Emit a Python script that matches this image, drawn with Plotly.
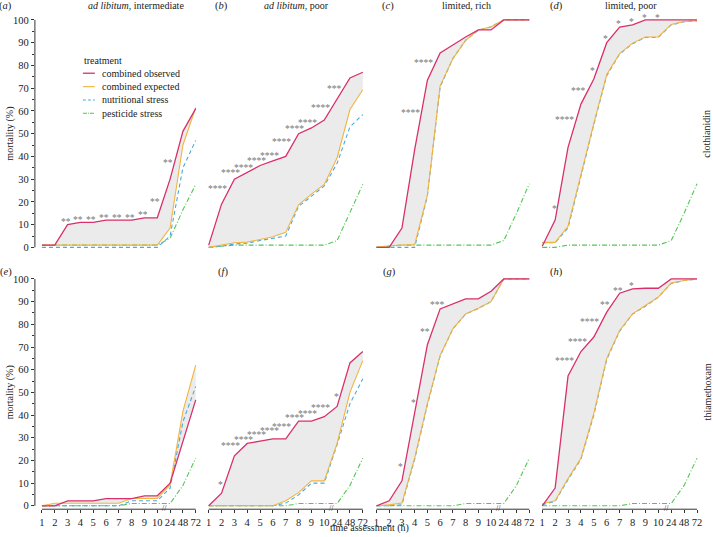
import plotly.graph_objects as go

# ---------------- data ----------------
times = ["1", "2", "3", "4", "5", "6", "7", "8", "9", "10", "24", "48", "72"]
panel_letters = ["a", "b", "c", "d", "e", "f", "g", "h"]
column_titles = ["<i>ad libitum</i>, intermediate", "<i>ad libitum</i>, poor",
                 "limited, rich", "limited, poor"]
pesticides = ["clothianidin", "thiamethoxam"]
series_names = ["combined observed", "combined expected",
                "nutritional stress", "pesticide stress"]

# clothianidin
obs_a = [1, 1, 10, 11, 11, 12, 12, 12, 13, 13, 30, 51, 61]
exp_a = [1, 1, 1, 1, 1, 1, 1, 1, 1, 1, 8.5, 45, 61.5]
nut_a = [0, 0, 0, 0, 0, 0, 0, 0, 0, 0, 5, 35, 47]
pes_a = [1, 1, 1, 1, 1, 1, 1, 1, 1, 1, 4, 16.5, 27.7]

obs_b = [1, 19, 30, 33, 36, 38, 40, 50, 52.5, 56, 65, 74.5, 77]
exp_b = [0, 1, 2, 2.3, 3.4, 4.7, 6.6, 18.7, 23.4, 27.7, 39.4, 60.6, 69.3]
nut_b = [0, 0.5, 1.5, 1.8, 3, 4, 5, 18, 22.6, 27, 37, 53, 58.4]
pes_b = [0, 0.5, 1, 1, 1, 1, 1, 1, 1, 1, 3, 15, 27.7]

obs_c = [0, 0, 8.5, 43, 73.5, 85.5, 89, 92.5, 95.6, 95.6, 100, 100, 100]
exp_c = [0, 0.7, 1, 1.2, 23, 71, 83, 91, 95.6, 97, 100, 100, 100]
nut_c = [0, 0, 0, 0, 22.5, 70.5, 83, 91, 95.5, 97, 100, 100, 100]
pes_c = [0, 0.5, 1, 1, 1, 1, 1, 1, 1, 1, 3, 15, 28]

obs_d = [0.5, 12, 44, 63, 74, 90, 96.8, 97.8, 100, 100, 100, 100, 100]
exp_d = [2.2, 2.2, 9.3, 32, 54.5, 76, 85.2, 89.8, 92.5, 92.5, 98, 99.3, 99.7]
nut_d = [2, 2, 8.5, 31.5, 54, 75.5, 85, 89.5, 92.3, 92.3, 97.8, 99.2, 99.6]
pes_d = [0, 0, 1, 1, 1, 1, 1, 1, 1, 1, 3, 15, 28]

# thiamethoxam
obs_e = [0, 0, 2.2, 2.2, 2.2, 3.2, 3.2, 3.2, 4.4, 4.4, 10, 28, 46.7]
exp_e = [0, 1.1, 1.1, 1.1, 1.1, 1.1, 1.1, 3.2, 3.2, 3.2, 9.2, 41.6, 62]
nut_e = [0, 0, 0, 0, 0, 0, 0, 2.2, 2.2, 2.2, 7.8, 37, 52.6]
pes_e = [0, 0, 0, 0, 0, 0, 0, 1, 1, 1, 1, 9, 21]

obs_f = [0, 5.6, 22, 27.5, 28.5, 29.5, 29.5, 37.3, 37.3, 39.3, 43.8, 63, 68]
exp_f = [0, 0, 0, 0, 0, 0, 2.2, 5.8, 11, 11, 27.5, 50, 64]
nut_f = [0, 0, 0, 0, 0, 0, 1.2, 4.8, 10, 10, 27, 45, 56]
pes_f = [0, 0, 0, 0, 0, 0, 0, 1, 1, 1, 1, 9, 21]

obs_g = [0, 2.2, 11, 41, 71, 86.8, 89, 91.2, 91.2, 94.6, 100, 100, 100]
exp_g = [0, 0.4, 1.2, 21, 45, 66.3, 78, 84.6, 87.1, 90, 100, 100, 100]
nut_g = [0, 0, 0.5, 20.5, 44.5, 66, 78, 84.5, 87, 90, 100, 100, 100]
pes_g = [0, 0, 0, 0, 0, 0, 0, 1, 1, 1, 1, 9, 21]

obs_h = [0, 7.8, 57.2, 68, 74.4, 85.4, 93.7, 95.6, 95.9, 95.9, 100, 100, 100]
exp_h = [0.9, 2.2, 12, 21, 40.7, 65, 77.3, 84.6, 88.3, 92, 98.2, 99.3, 100]
nut_h = [0.5, 2, 11.5, 20.5, 40, 64.5, 77, 84.5, 88, 92, 98, 99.3, 100]
pes_h = [0, 0, 0, 0, 0, 0, 0, 1, 1, 1, 1, 9, 21]

# significance labels: time, text, label height (mortality %)
sig_a_t = ["3", "4", "5", "6", "7", "8", "9", "10", "24"]
sig_a_s = ["**"] * 9
sig_a_y = [12.1, 13.1, 13.1, 14.2, 14.2, 14.2, 15.3, 21.2, 38]

sig_b_t = ["2", "3", "4", "5", "6", "7", "8", "9", "10", "24"]
sig_b_s = ["****"] * 9 + ["***"]
sig_b_y = [26.7, 33.6, 35.8, 39, 41.2, 47.4, 53.3, 56, 62.5, 70.7]

sig_c_t = ["4", "5"]
sig_c_s = ["****", "****"]
sig_c_y = [60, 82]

sig_d_t = ["2", "3", "4", "5", "6", "7", "8", "9", "10"]
sig_d_s = ["*", "****", "***", "*", "*", "*", "*", "*", "*"]
sig_d_y = [18, 57, 70, 78.8, 92.7, 99.5, 100.4, 102, 102]

sig_e_t, sig_e_s, sig_e_y = [], [], []

sig_f_t = ["2", "3", "4", "5", "6", "7", "8", "9", "10", "24"]
sig_f_s = ["*"] + ["****"] * 8 + ["*"]
sig_f_y = [10.4, 27.5, 30.2, 32.2, 34.1, 36, 40, 41.4, 44.4, 49]

sig_g_t = ["3", "4", "5", "6"]
sig_g_s = ["*", "*", "**", "***"]
sig_g_y = [18, 46.6, 77.6, 89.7]

sig_h_t = ["3", "4", "5", "6", "7", "8"]
sig_h_s = ["****", "****", "****", "**", "**", "*"]
sig_h_y = [64.9, 73.4, 82.1, 89.7, 95.9, 97.8]

y_ticks = [0, 10, 20, 30, 40, 50, 60, 70, 80, 90, 100]
y_minor = [5, 15, 25, 35, 45, 55, 65, 75, 85, 95]

panels = [
    (obs_a, exp_a, nut_a, pes_a, sig_a_t, sig_a_s, sig_a_y),
    (obs_b, exp_b, nut_b, pes_b, sig_b_t, sig_b_s, sig_b_y),
    (obs_c, exp_c, nut_c, pes_c, sig_c_t, sig_c_s, sig_c_y),
    (obs_d, exp_d, nut_d, pes_d, sig_d_t, sig_d_s, sig_d_y),
    (obs_e, exp_e, nut_e, pes_e, sig_e_t, sig_e_s, sig_e_y),
    (obs_f, exp_f, nut_f, pes_f, sig_f_t, sig_f_s, sig_f_y),
    (obs_g, exp_g, nut_g, pes_g, sig_g_t, sig_g_s, sig_g_y),
    (obs_h, exp_h, nut_h, pes_h, sig_h_t, sig_h_s, sig_h_y),
]

# ---------------- styling / geometry ----------------
W, H = 713, 537
FONT = "Liberation Serif"
TXT = "#222222"
FS_TICK = 10.5
FS_TEXT = 10
C_OBS = "#d8306b"
C_EXP = "#f3b33f"
C_NUT = "#4ba9e0"
C_PES = "#52c652"
C_FILL = "#ebebeb"
styles = [
    dict(color=C_OBS, width=1.3, dash="solid"),
    dict(color=C_EXP, width=1.1, dash="solid"),
    dict(color=C_NUT, width=1.1, dash="4px,3px"),
    dict(color=C_PES, width=1.1, dash="5px,2px,1px,2px"),
]

col_p0 = [42, 209, 377, 543]
col_p12 = [196, 363.3, 530, 698]
row_y0 = [248.3, 507.7]
row_y100 = [20, 280]
XR = [-0.55, 12.3]
YR = [-1.5, 103]

idx = list(range(len(times)))

fig = go.Figure()
layout = dict(
    width=W, height=H, autosize=False,
    margin=dict(l=0, r=0, t=0, b=0),
    paper_bgcolor="white", plot_bgcolor="white",
    showlegend=False,
    font=dict(family=FONT, size=FS_TEXT, color=TXT),
)
shapes = []
annotations = []

for p in range(8):
    r, c = divmod(p, 4)
    n = p + 1
    xa = "x" if n == 1 else f"x{n}"
    ya = "y" if n == 1 else f"y{n}"
    xkey = "xaxis" if n == 1 else f"xaxis{n}"
    ykey = "yaxis" if n == 1 else f"yaxis{n}"
    s = (col_p12[c] - col_p0[c]) / 12
    left = col_p0[c] + XR[0] * s
    right = col_p0[c] + XR[1] * s
    k = (row_y0[r] - row_y100[r]) / 100
    top = row_y100[r] - (YR[1] - 100) * k
    bottom = row_y0[r] - YR[0] * k

    bottom_row = r == 1
    layout[xkey] = dict(
        domain=[left / W, right / W], range=XR, anchor=ya,
        showgrid=False, zeroline=False, showline=False,
        tickmode="array", tickvals=idx, ticktext=times, tickangle=0,
        ticks="outside" if bottom_row else "", ticklen=3, tickwidth=1,
        tickcolor="#333333", showticklabels=bottom_row,
        tickfont=dict(family=FONT, size=FS_TICK, color=TXT),
    )
    first_col = c == 0
    ydict = dict(
        domain=[1 - bottom / H, 1 - top / H], range=YR, anchor=xa,
        showgrid=False, zeroline=False, showline=False,
        tickmode="array", tickvals=y_ticks,
        ticks="outside" if first_col else "", ticklen=3, tickwidth=1,
        tickcolor="#333333", showticklabels=first_col,
        tickfont=dict(family=FONT, size=FS_TICK, color=TXT),
    )
    if first_col:
        ydict["minor"] = dict(tickmode="array", tickvals=y_minor, ticks="outside",
                              ticklen=2, tickwidth=1, tickcolor="#333333")
    layout[ykey] = ydict

    obs, exp, nut, pes, st, ss, sy = panels[p]
    # ribbon between observed and expected
    fig.add_trace(go.Scatter(x=idx, y=exp, xaxis=xa, yaxis=ya, mode="lines",
                             line=dict(width=0, color=C_FILL), hoverinfo="skip"))
    fig.add_trace(go.Scatter(x=idx, y=obs, xaxis=xa, yaxis=ya, mode="lines",
                             line=dict(width=0, color=C_FILL), fill="tonexty",
                             fillcolor=C_FILL, hoverinfo="skip"))
    for ys, sty in [(pes, styles[3]), (nut, styles[2]), (exp, styles[1]), (obs, styles[0])]:
        fig.add_trace(go.Scatter(x=idx, y=ys, xaxis=xa, yaxis=ya, mode="lines",
                                 line=sty, hoverinfo="skip"))

    # significance labels
    for t, txt, yv in zip(st, ss, sy):
        annotations.append(dict(
            x=times.index(t) - 0.075 * len(txt), y=yv, xref=xa, yref=ya,
            text=txt, showarrow=False, xanchor="center", yanchor="middle",
            yshift=-2.5, font=dict(family=FONT, size=9.5, color="#777777")))

    # capped axis lines
    if first_col:
        shapes.append(dict(type="line", xref=f"{xa} domain", yref=ya,
                           x0=0, x1=0, y0=0, y1=100,
                           line=dict(color="#333333", width=1)))
    if bottom_row:
        shapes.append(dict(type="line", xref=xa, yref=f"{ya} domain",
                           x0=0, x1=12, y0=0, y1=0,
                           line=dict(color="#333333", width=1)))
        annotations.append(dict(x=9.6, y=0, xref=xa, yref=f"{ya} domain",
                                text="//", showarrow=False, xanchor="center",
                                yanchor="middle", yshift=1,
                                font=dict(family=FONT, size=8, color="#333333")))

    # panel letter
    letter_x = [6, 222, 389, 557][c] if r == 0 else [6, 223, 390, 557][c]
    letter_y = 6 if r == 0 else 273
    annotations.append(dict(x=letter_x / W, y=1 - letter_y / H, xref="paper", yref="paper",
                            text=f"(<i>{panel_letters[p]}</i>)", showarrow=False,
                            xanchor="center", yanchor="middle",
                            font=dict(family=FONT, size=10.5, color=TXT)))

# column titles (top row only)
title_x = [136, 297, 467, 632]
for c in range(4):
    annotations.append(dict(x=title_x[c] / W, y=1 - 6 / H, xref="paper", yref="paper",
                            text=column_titles[c], showarrow=False,
                            xanchor="center", yanchor="middle",
                            font=dict(family=FONT, size=FS_TEXT, color=TXT)))

# row strip labels and y titles
for r in range(2):
    cy = (row_y0[r] + row_y100[r]) / 2
    annotations.append(dict(x=708 / W, y=1 - cy / H, xref="paper", yref="paper",
                            text=pesticides[r], showarrow=False, textangle=-90,
                            xanchor="center", yanchor="middle",
                            font=dict(family=FONT, size=FS_TEXT, color=TXT)))
    annotations.append(dict(x=10 / W, y=1 - cy / H, xref="paper", yref="paper",
                            text="mortality (%)", showarrow=False, textangle=-90,
                            xanchor="center", yanchor="middle",
                            font=dict(family=FONT, size=FS_TEXT, color=TXT)))

annotations.append(dict(x=370 / W, y=0, xref="paper", yref="paper",
                        text="time assessment (h)", showarrow=False,
                        xanchor="center", yanchor="bottom", yshift=-1,
                        font=dict(family=FONT, size=FS_TEXT, color=TXT)))

# legend (drawn in panel a)
annotations.append(dict(x=82 / W, y=1 - 61 / H, xref="paper", yref="paper",
                        text="treatment", showarrow=False, xanchor="left",
                        yanchor="middle", font=dict(family=FONT, size=FS_TEXT, color=TXT)))
leg_y = [73.5, 87, 100.3, 113.6]
leg_dash = ["solid", "solid", "3px,2px", "4px,1px,1px,1px"]
for i, name in enumerate(series_names):
    yy = 1 - leg_y[i] / H
    sty = styles[i]
    shapes.append(dict(type="line", xref="paper", yref="paper",
                       x0=83 / W, x1=95 / W, y0=yy, y1=yy,
                       line=dict(color=sty["color"], width=sty["width"], dash=leg_dash[i])))
    annotations.append(dict(x=100 / W, y=yy, xref="paper", yref="paper",
                            text=name, showarrow=False, xanchor="left",
                            yanchor="middle", font=dict(family=FONT, size=FS_TEXT, color=TXT)))

layout["shapes"] = shapes
layout["annotations"] = annotations
fig.update_layout(**layout)

fig.write_html("out.html", post_script="document.body.style.margin='0';",
               config={"displayModeBar": False})
